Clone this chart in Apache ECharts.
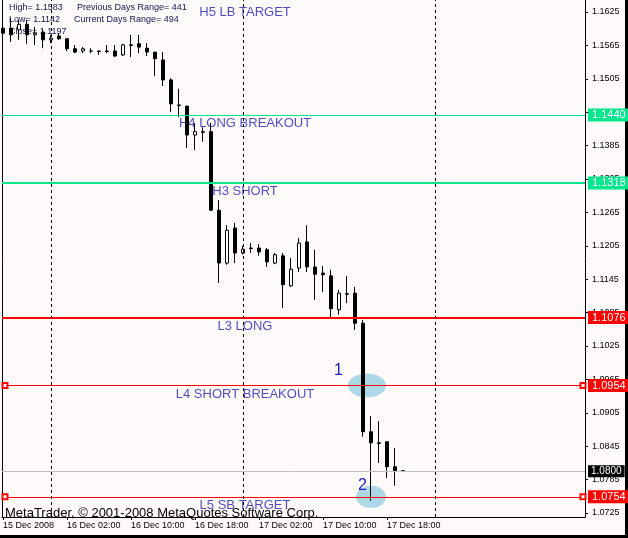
<!DOCTYPE html>
<html>
<head>
<meta charset="utf-8">
<script src="https://cdn.jsdelivr.net/npm/echarts@6/dist/echarts.min.js"></script>
<style>
html,body{margin:0;padding:0;background:#fffafa;}
#c{width:628px;height:538px;}
</style>
</head>
<body>
<div id="c"></div>
<script>
// ---------- DATA ----------
// H1 bars from 15 Dec 2008 18:00 to 17 Dec 2008 20:00 (bar index 0..50)
const opens  = [1.1596,1.1596,1.1593,1.1603,1.1584,1.1589,1.1575,1.1582,1.1577,1.1559,
                1.1555,1.1555,1.1555,1.1555,1.1555,1.1548,1.1566,1.1568,1.1560,1.1553,
                1.1539,1.1503,1.1458,1.1456,1.1404,1.1410,1.1410,1.1269,1.1174,1.1237,
                1.1192,1.1201,1.1201,1.1198,1.1174,1.1187,1.1133,1.1165,1.1212,1.1167,
                1.1156,1.1151,1.1090,1.1119,1.1120,1.1066,1.0871,1.0851,1.0853,1.0808,
                1.0801];
const highs  = [1.1611,1.1614,1.1611,1.1611,1.1598,1.1594,1.1584,1.1587,1.1578,1.1566,
                1.1562,1.1560,1.1555,1.1566,1.1566,1.1568,1.1584,1.1584,1.1569,1.1553,
                1.1553,1.1506,1.1487,1.1456,1.1426,1.1418,1.1426,1.1287,1.1242,1.1246,
                1.1205,1.1210,1.1208,1.1201,1.1192,1.1192,1.1183,1.1219,1.1242,1.1198,
                1.1169,1.1162,1.1126,1.1151,1.1131,1.1072,1.0899,1.0890,1.0853,1.0842,
                1.0801];
const lows   = [1.1578,1.1571,1.1575,1.1568,1.1566,1.1560,1.1569,1.1575,1.1555,1.1551,
                1.1551,1.1551,1.1548,1.1551,1.1544,1.1546,1.1544,1.1551,1.1546,1.1510,
                1.1492,1.1445,1.1436,1.1381,1.1377,1.1392,1.1268,1.1138,1.1171,1.1174,
                1.1189,1.1192,1.1187,1.1167,1.1172,1.1093,1.1131,1.1158,1.1158,1.1108,
                1.1122,1.1077,1.1081,1.1102,1.1054,1.0862,1.0747,1.0815,1.0788,1.0774,
                1.0800];
const closes = [1.1587,1.1584,1.1603,1.1584,1.1587,1.1575,1.1578,1.1577,1.1559,1.1553,
                1.1559,1.1555,1.1554,1.1554,1.1546,1.1566,1.1565,1.1562,1.1553,1.1541,
                1.1503,1.1460,1.1457,1.1404,1.1410,1.1409,1.1269,1.1174,1.1233,1.1192,
                1.1199,1.1200,1.1194,1.1176,1.1189,1.1135,1.1163,1.1210,1.1167,1.1154,
                1.1153,1.1092,1.1120,1.1118,1.1066,1.0871,1.0851,1.0850,1.0808,1.0801,
                1.0800];

const timeTickLabels = ["15 Dec 2008","16 Dec 02:00","16 Dec 10:00","16 Dec 18:00",
                        "17 Dec 02:00","17 Dec 10:00","17 Dec 18:00"];
const timeTickStep = 8;            // bars between time labels
const daySeparatorBars = [6, 30, 54];

const priceTickStart = 1.0725;     // lowest price tick
const priceTickStepPips = 60;      // 0.0060
const priceTickCountPips = 900;    // 1.0725 .. 1.1625

const levelNames  = ["H5 LB TARGET","H4 LONG BREAKOUT","H3 SHORT","L3 LONG","L4 SHORT BREAKOUT","L5 SB TARGET"];
const levelValues = [1.1640, 1.1440, 1.1318, 1.1076, 1.0954, 1.0754];
const levelTextBar = 30.25;
const currentPrice = 1.0800;

const signalPoints = [[45.5, 1.0954], [46, 1.0754]];
const signalLabels = ["1", "2"];

const prevHigh = 1.1583, prevLow = 1.1142, prevClose = 1.1197;
const prevRange = 441, curRange = 494;

const priceMin = 1.07178, priceMax = 1.16466;
const barMin = -0.125, barMax = 72.75;

// ---------- CHART ----------
const FONT = "'Liberation Sans', Arial, sans-serif";
const GREEN = '#00e68c', RED = '#ff0000', BLUE = '#1e1eb4';
const chart = echarts.init(document.getElementById('c'), null, {renderer: 'canvas'});

const candles = opens.map((o, i) => [i, o, closes[i], lows[i], highs[i]]);

function priceLabel(bg, size, pad) {
  return {show: true, position: 'end', distance: 3, formatter: p => Number(p.value).toFixed(4),
          backgroundColor: bg, color: '#fff', fontSize: size, fontFamily: FONT,
          padding: pad, lineHeight: size + 1};
}
const lineStyles = [
  null,
  {color: GREEN, width: 1, sym: false},
  {color: GREEN, width: 2, sym: false},
  {color: RED, width: 2, sym: false},
  {color: RED, width: 1, sym: true},
  {color: RED, width: 1, sym: true}
];
const lineItems = [];
const endMarkers = [];
levelValues.forEach((v, i) => {
  const st = lineStyles[i];
  if (!st) return;
  const item = {yAxis: v, lineStyle: {type: 'solid', color: st.color, width: st.width},
                label: priceLabel(st.color, 11, [1, 4, 0, 4])};
  if (st.sym) {
    item.symbol = 'emptyRect'; item.symbolSize = 5;
    endMarkers.push({coord: [barMax, v], itemStyle: {color: st.color}});
  }
  lineItems.push(item);
});
lineItems.push({yAxis: currentPrice, lineStyle: {color: '#c0c0c0', width: 1, type: 'solid'},
                label: priceLabel('#000', 10, [1, 3, 0, 3])});
daySeparatorBars.forEach(b => lineItems.push({xAxis: b, lineStyle: {color: '#000', width: 1, type: [3, 3]},
                                              label: {show: false}}));

const numberOffsets = [[-28.5, -14.5], [-8.5, -11.5]];
const ellipseSizes = [[38, 24], [30, 22]];

const option = {
  animation: false,
  backgroundColor: '#fffafa',
  textStyle: {fontFamily: FONT},
  grid: [
    {left: 2, right: 43, top: 0, bottom: 21, containLabel: false, outerBoundsMode: 'none'},
    {left: 2, right: 43, top: 12, bottom: 25, containLabel: false, outerBoundsMode: 'none'},
    {left: 3, right: 241, top: 0, bottom: 21, containLabel: false, outerBoundsMode: 'none'}
  ],
  xAxis: [
    {gridIndex: 0, type: 'value', min: barMin, max: barMax,
     axisLine: {show: true, onZero: false, lineStyle: {color: '#000', width: 1}},
     axisTick: {show: false}, axisLabel: {show: false}, splitLine: {show: false}},
    {gridIndex: 1, type: 'value', min: 1, max: 2, show: false,
     axisLine: {onZero: false}, splitLine: {show: false}},
    {gridIndex: 2, type: 'value', min: 0, max: timeTickStep * (timeTickLabels.length - 1), interval: timeTickStep,
     axisLine: {show: false, onZero: false}, splitLine: {show: false},
     axisTick: {show: true, length: 3, lineStyle: {color: '#000'}},
     axisLabel: {show: true, align: 'left', margin: 4, fontSize: 9, color: '#000', fontFamily: FONT,
                 showMinLabel: true, showMaxLabel: true, hideOverlap: false,
                 formatter: v => timeTickLabels[Math.round(v / timeTickStep)] || ''}}
  ],
  yAxis: [
    {gridIndex: 0, type: 'value', position: 'right', min: priceMin, max: priceMax,
     axisLine: {show: true, onZero: false, lineStyle: {color: '#000', width: 1}},
     axisTick: {show: false}, axisLabel: {show: false}, splitLine: {show: false}},
    {gridIndex: 0, type: 'value', position: 'left', min: priceMin, max: priceMax,
     axisLine: {show: true, onZero: false, lineStyle: {color: '#000', width: 1}},
     axisTick: {show: false}, axisLabel: {show: false}, splitLine: {show: false}},
    {gridIndex: 1, type: 'value', position: 'right', min: 0, max: priceTickCountPips, interval: priceTickStepPips,
     axisLine: {show: false, onZero: false}, splitLine: {show: false},
     axisTick: {show: true, length: 3, lineStyle: {color: '#000'}},
     axisLabel: {show: true, margin: 7, fontSize: 9, color: '#000', fontFamily: FONT, hideOverlap: false,
                 formatter: v => (priceTickStart + v / 10000).toFixed(4)}},
    {gridIndex: 2, type: 'value', show: false, min: 1, max: 2, axisLine: {onZero: false}, splitLine: {show: false}}
  ],
  graphic: [
    {type: 'rect', z: 0, silent: true, shape: {x: 625, y: 0, width: 3, height: 538}, style: {fill: '#000'}},
    {type: 'rect', z: 0, silent: true, shape: {x: 0, y: 535, width: 628, height: 3}, style: {fill: '#000'}},
    {type: 'text', z: 0, x: 9, y: 8, style: {text: 'High= ' + prevHigh.toFixed(4), fill: '#141450', font: "9px " + FONT, verticalAlign: 'middle'}},
    {type: 'text', z: 0, x: 77, y: 8, style: {text: 'Previous Days Range= ' + prevRange, fill: '#141450', font: "9px " + FONT, verticalAlign: 'middle'}},
    {type: 'text', z: 0, x: 9, y: 20, style: {text: 'Low= ' + prevLow.toFixed(4), fill: '#141450', font: "9px " + FONT, verticalAlign: 'middle'}},
    {type: 'text', z: 0, x: 74, y: 20, style: {text: 'Current Days Range= ' + curRange, fill: '#141450', font: "9px " + FONT, verticalAlign: 'middle'}},
    {type: 'text', z: 0, x: 9, y: 32, style: {text: 'Close= ' + prevClose.toFixed(4), fill: '#141450', font: "9px " + FONT, verticalAlign: 'middle'}},
    {type: 'text', z: 0, x: 5, y: 513.5, style: {text: 'MetaTrader, \u00a9 2001-2008 MetaQuotes Software Corp.', fill: '#000', font: "13px " + FONT, verticalAlign: 'middle'}}
  ],
  series: [
    {
      type: 'scatter', xAxisIndex: 0, yAxisIndex: 0, z: 1, silent: true,
      symbol: 'circle',
      data: signalPoints.map((p, i) => ({value: p, symbolSize: ellipseSizes[i],
        label: {show: true, position: 'inside', offset: numberOffsets[i], formatter: () => signalLabels[i],
                color: BLUE, fontSize: 16, fontFamily: FONT}})),
      itemStyle: {color: '#add8e6', opacity: 1}
    },
    {
      type: 'scatter', xAxisIndex: 0, yAxisIndex: 0, z: 2, silent: true,
      symbol: 'circle', symbolSize: 1, itemStyle: {color: 'rgba(0,0,0,0)'},
      data: levelValues.map((v, i) => ({value: [levelTextBar, v], name: levelNames[i]})),
      label: {show: true, position: 'inside', offset: [0, 8.5], formatter: p => p.name,
              color: BLUE, fontSize: 13, fontFamily: FONT},
      markLine: {silent: true, animation: false, symbol: 'none', precision: 4,
                 symbolRotate: 0, symbolOffset: [[3, 0], [-2, 0]],
                 label: {show: false}, emphasis: {disabled: true}, data: lineItems},
      markPoint: {silent: true, animation: false, symbol: 'emptyRect', symbolSize: 5,
                  symbolOffset: [-2, 0], label: {show: false}, emphasis: {disabled: true},
                  data: endMarkers}
    },
    {
      type: 'candlestick', xAxisIndex: 0, yAxisIndex: 0, z: 3, silent: true,
      barWidth: 4,
      itemStyle: {color: '#ffffff', color0: '#000000', borderColor: '#000000', borderColor0: '#000000', borderWidth: 1},
      data: candles
    }
  ]
};
chart.setOption(option);
</script>
</body>
</html>
